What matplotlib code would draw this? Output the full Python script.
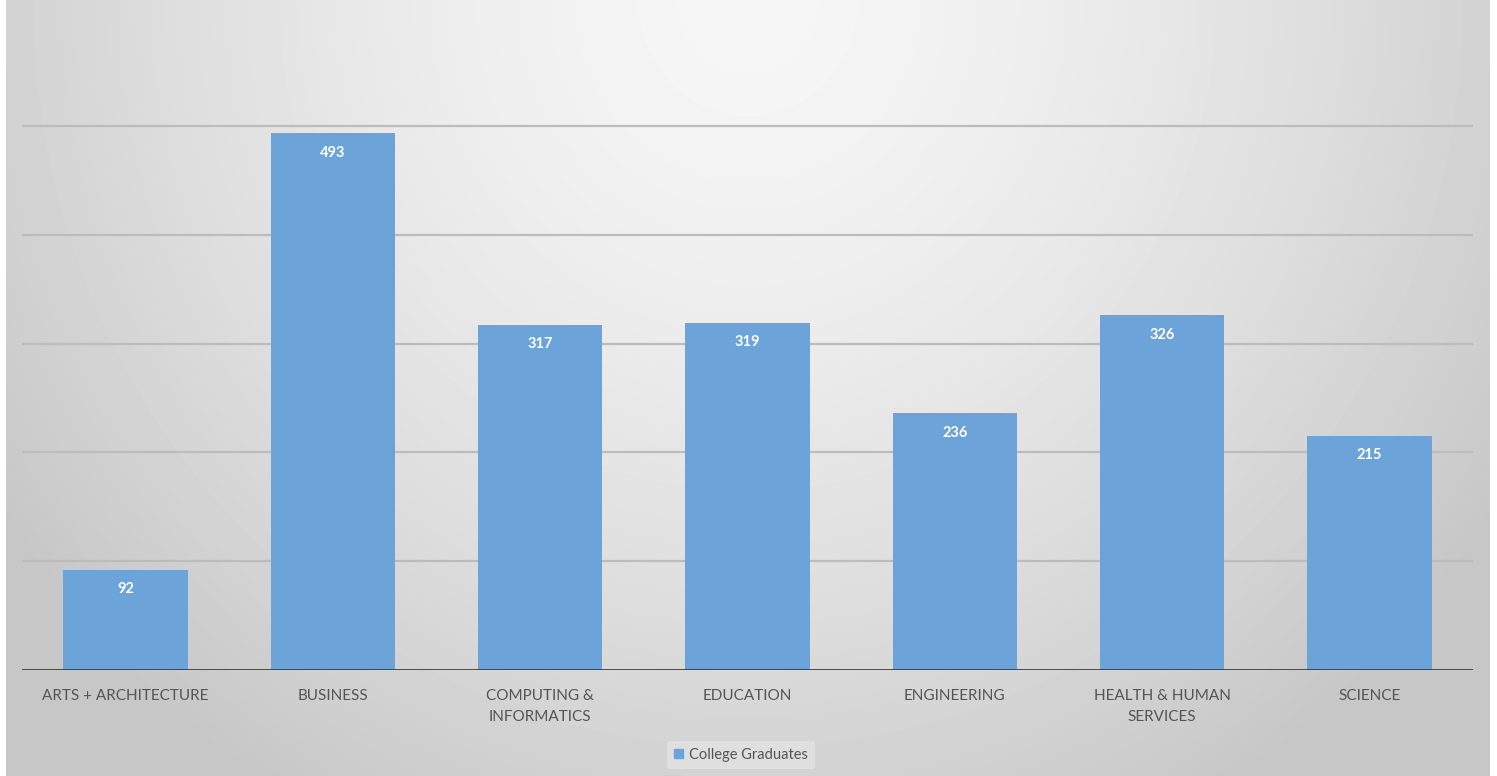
import matplotlib
matplotlib.use("Agg")
import matplotlib.pyplot as plt
import numpy as np
from matplotlib.patches import Patch

categories = ["ARTS + ARCHITECTURE", "BUSINESS", "COMPUTING &\nINFORMATICS", "EDUCATION",
              "ENGINEERING", "HEALTH & HUMAN\nSERVICES", "SCIENCE"]
graduates = [92, 493, 317, 319, 236, 326, 215]
grid_ticks = [100, 200, 300, 400, 500]
series_name = "College Graduates"

bar_color = "#6CA3D8"
text_grey = "#555555"

W, H = 1497, 776
fig = plt.figure(figsize=(W/100, H/100), dpi=100)
fig.patch.set_facecolor("white")

# background gradient (light at top centre, grey toward bottom/corners)
bg = fig.add_axes([6/W, 0, (1490-6)/W, 1], zorder=-5)
xx, yy = np.meshgrid(np.linspace(0, 1, 300), np.linspace(0, 1, 160))
d = np.sqrt(((xx-0.5)/0.5)**2 + (yy/1.0)**2)
shade = np.clip(0.965 - 0.14*d**1.5, 0.78, 1)
bg.imshow(shade, cmap="gray", vmin=0, vmax=1, aspect="auto", extent=[0, 1, 1, 0],
          interpolation="bilinear")
bg.axis("off")

ax = fig.add_axes([22/W, 1-670/H, (1473-22)/W, (670-17)/H])
ax.patch.set_alpha(0)
x = np.arange(len(categories))
bars = ax.bar(x, graduates, width=0.6, color=bar_color, zorder=3)
ax.set_xlim(-0.5, len(categories)-0.5)
ax.set_ylim(0, 600)

for yv in grid_ticks:
    ax.axhline(yv, color="#bcbcbc", lw=1.6, zorder=1)
ax.axhline(0, color="#3f3f3f", lw=2, zorder=4)

for s in ax.spines.values():
    s.set_visible(False)
ax.set_yticks([])
ax.set_xticks(x)
ax.set_xticklabels(categories, fontsize=11, color=text_grey, family="Lato",
                   linespacing=1.6, va="top")
ax.tick_params(axis="x", length=0, pad=14)

for xi, v in zip(x, graduates):
    ax.annotate(str(v), (xi, v), xytext=(0, -14), textcoords="offset points",
                ha="center", va="center", color="white", fontsize=10.5,
                fontweight="bold", family="Lato", zorder=5)

leg = fig.legend(handles=[Patch(color=bar_color, label=series_name)],
                 loc="center", bbox_to_anchor=(741/W, 1-755/H), frameon=True,
                 handlelength=0.6, handleheight=0.6, handletextpad=0.4,
                 borderpad=0.5, prop={"family": "Lato", "size": 10.5})
leg.get_frame().set_facecolor("#e3e3e3")
leg.get_frame().set_edgecolor("none")
leg.get_frame().set_alpha(0.8)
for t in leg.get_texts():
    t.set_color(text_grey)

fig.savefig("out.png", dpi=100)
